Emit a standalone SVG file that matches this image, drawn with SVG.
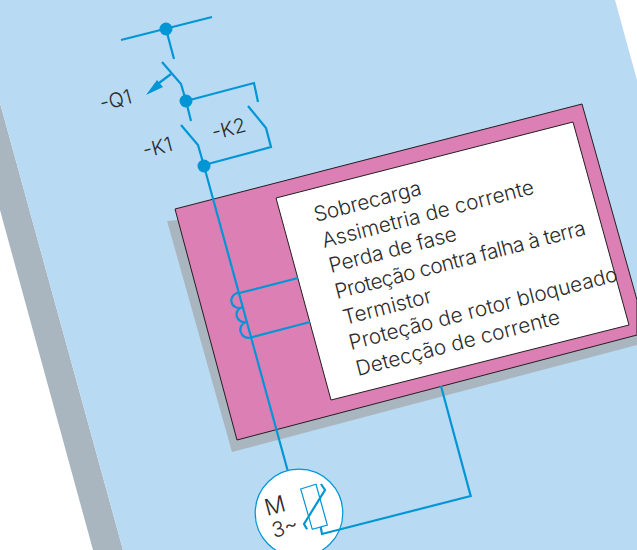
<svg xmlns="http://www.w3.org/2000/svg" width="637" height="550" viewBox="0 0 637 550">
<style>
.w{fill:none;stroke:#0096d6;stroke-width:2.2;stroke-linejoin:miter}
.d{fill:#0096d6}
.t{font-family:"Inter","Liberation Sans",sans-serif;font-weight:300;fill:#2b2a2b}
.l{font-size:20.800px}
.m{font-size:20px}
</style>
<rect width="637" height="550" fill="#fff"/>
<g id="page">
<ellipse cx="20" cy="-3" rx="7" ry="6" fill="#231f20"/>
<polygon points="0,210 93,550 123,550 0,103" fill="#a9b6bf"/>
<polygon points="0,0 615,0 637,80 637,550 123,550 0,103" fill="#b9daf3"/>
</g>
<g id="relay">
<polygon points="167,221 232,452 637,345 637,300 400,200" fill="#a9b6bf"/>
<polygon points="175,209 582,104 637,300 637,335 237,440" fill="#dc7fb5" stroke="#231f20" stroke-width="1"/>
</g>
<g id="protections">
<polygon points="276,198 573,122 629,325 331,400" fill="#fff" stroke="#231f20" stroke-width="1"/>
<g class="t l">
<text transform="translate(316,222) rotate(-14.500)" textLength="110">Sobrecarga</text>
<text transform="translate(324,248) rotate(-14.500)">Assimetria de corrente</text>
<text transform="translate(331,273) rotate(-14.500)" textLength="131">Perda de fase</text>
<text transform="translate(337,299) rotate(-14.500)" textLength="258">Proteção contra falha à terra</text>
<text transform="translate(345,325) rotate(-14.500)">Termistor</text>
<text transform="translate(351,350) rotate(-14.500)">Proteção de rotor bloqueado</text>
<text transform="translate(358,376) rotate(-14.500)">Detecção de corrente</text>
</g>
</g>
<g id="motor">
<circle cx="299" cy="513" r="43.800" fill="#fff" stroke="#0096d6" stroke-width="1.200"/>
<polygon points="300.700,489 316,484.300 327.300,525 312.300,529.300" fill="none" stroke="#0096d6" stroke-width="1.200"/>
<text class="t" font-size="23" transform="translate(267,516) rotate(-15)">M</text>
<text class="t" font-size="21" transform="translate(274,538) rotate(-15)">3~</text>
</g>
<g id="connectors">
<path class="w" d="M121,40L212,17M166,29L174,59M162,62L181,84L186,101L191,121"/>
<path class="w" d="M171,74L155,86"/>
<polygon class="d" points="146,95 157,80 163,87"/>
<path class="w" d="M186,101L254,83L258,102M248,106L266,128L271,147L204,165"/>
<path class="w" d="M181,125L198,145L204,166L287.500,470"/>
<path class="w" d="M298,278L239.500,293A7.500,7.500 0 1 0 242.500,307A7.500,7.500 0 1 0 246,322A8,8 0 0 0 251,337.500L310,322"/>
<path class="w" d="M307,529.300L304,524L325,490L321,484"/>
<path class="w" d="M320.700,527L322,534L470.700,496L441,386"/>
<circle class="d" cx="166" cy="29" r="6.500"/>
<circle class="d" cx="186" cy="101" r="6.500"/>
<circle class="d" cx="204" cy="166" r="6.500"/>
</g>
<g id="labels" class="t m">
<text transform="translate(102,111) rotate(-15)">-Q1</text>
<text transform="translate(145,158) rotate(-15)">-K1</text>
<text transform="translate(214,140) rotate(-15)">-K2</text>
</g>
</svg>
